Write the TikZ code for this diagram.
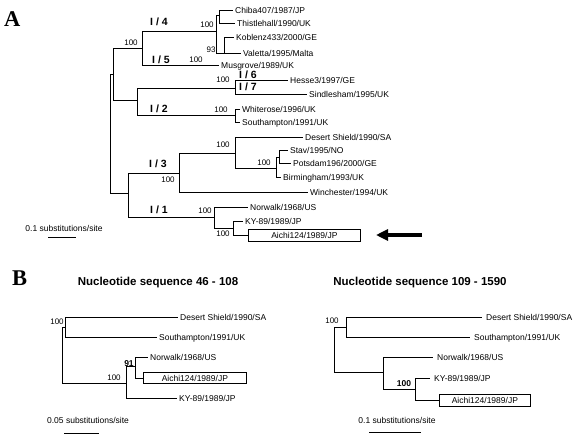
\documentclass[tikz,border=0pt]{standalone}
\usepackage{fontspec}
\setmainfont{Liberation Sans}
\newfontfamily\panelfont{Liberation Serif}
\usetikzlibrary{arrows.meta}
\begin{document}
\begin{tikzpicture}[x=1pt,y=-1pt,
  branch/.style={line width=0.75pt, draw=black},
  leaf/.style={anchor=west, inner xsep=2pt, inner ysep=0pt, font=\fontsize{8.5}{10}\selectfont, text height=6.1pt, text depth=0pt},
  leafR/.style={leaf, inner xsep=4pt},
  boxleaf/.style={draw, line width=0.75pt, anchor=west, inner sep=0pt, font=\fontsize{8.5}{10}\selectfont, text height=6.1pt, text depth=0pt, minimum height=12pt},
  bootlab/.style={inner sep=0pt, font=\fontsize{8}{9.6}\selectfont, text height=5.7pt, text depth=0pt},
  bootbold/.style={inner sep=0pt, font=\bfseries\fontsize{8.5}{10}\selectfont, text height=6.1pt, text depth=0pt},
  cladelab/.style={inner sep=0pt, font=\bfseries\fontsize{10.5}{12}\selectfont, text height=7.5pt, text depth=0pt},
  titlelab/.style={anchor=base, inner sep=0pt, font=\bfseries\fontsize{11.5}{13}\selectfont},
  panellab/.style={anchor=base west, inner sep=0pt, font=\panelfont\bfseries\fontsize{22.5}{26}\selectfont},
  scalelab/.style={inner sep=0pt, font=\fontsize{8.5}{10}\selectfont, text height=6.1pt, text depth=0pt},
  scalebar/.style={line width=1pt}
]
\useasboundingbox (0,0) rectangle (576,439);

% ---------------- Panel A ----------------
\node[panellab] (labA) at (4,27) {A};

\coordinate (rootA) at (110,74);
\coordinate (up) at (113,74);
\coordinate (c45) at (142,48);
\coordinate (c4) at (216,31);
\coordinate (c4a) at (219,15);
\coordinate (c4b) at (224,53);
\coordinate (c67b) at (137,100);
\coordinate (c67) at (235,88);
\coordinate (c2) at (235,115);
\coordinate (low) at (128,193);
\coordinate (c3) at (179,173);
\coordinate (cds) at (235,153);
\coordinate (cst) at (276,168);
\coordinate (csp) at (279,157);
\coordinate (c1) at (214,217);
\coordinate (cka) at (233,228);

\node[leaf] (chiba) at (233,10) {Chiba407/1987/JP};
\node[leaf] (thistle) at (235,23) {Thistlehall/1990/UK};
\node[leaf] (koblenz) at (234,37) {Koblenz433/2000/GE};
\node[leaf] (valetta) at (241,53) {Valetta/1995/Malta};
\node[leaf] (musgrove) at (219,65) {Musgrove/1989/UK};
\node[leaf] (hesse) at (288,80) {Hesse3/1997/GE};
\node[leaf] (sind) at (307,94) {Sindlesham/1995/UK};
\node[leaf] (white) at (240,109) {Whiterose/1996/UK};
\node[leaf] (southA) at (240,122) {Southampton/1991/UK};
\node[leaf] (desertA) at (303,137) {Desert Shield/1990/SA};
\node[leaf] (stav) at (288,150) {Stav/1995/NO};
\node[leaf] (potsdam) at (291,163) {Potsdam196/2000/GE};
\node[leaf] (birm) at (281,177) {Birmingham/1993/UK};
\node[leaf] (winch) at (308,192) {Winchester/1994/UK};
\node[leaf] (norA) at (248,207) {Norwalk/1968/US};
\node[leaf] (kyA) at (243,221) {KY-89/1989/JP};
\node[boxleaf, minimum width=112pt] (aichiA) at (248,235) {Aichi124/1989/JP};

\draw[branch] (rootA) |- (up);
\draw[branch] (rootA) |- (low);
\draw[branch] (up) |- (c45);
\draw[branch] (up) |- (c67b);
\draw[branch] (c45) |- (c4);
\draw[branch] (c45) |- (musgrove.west);
\draw[branch] (c4) |- (c4a);
\draw[branch] (c4) |- (c4b);
\draw[branch] (c4a) |- (chiba.west);
\draw[branch] (c4a) |- (thistle.west);
\draw[branch] (c4b) |- (koblenz.west);
\draw[branch] (c4b) |- (valetta.west);
\draw[branch] (c67b) |- (c67);
\draw[branch] (c67b) |- (c2);
\draw[branch] (c67) |- (hesse.west);
\draw[branch] (c67) |- (sind.west);
\draw[branch] (c2) |- (white.west);
\draw[branch] (c2) |- (southA.west);
\draw[branch] (low) |- (c3);
\draw[branch] (low) |- (c1);
\draw[branch] (c3) |- (cds);
\draw[branch] (c3) |- (winch.west);
\draw[branch] (cds) |- (desertA.west);
\draw[branch] (cds) |- (cst);
\draw[branch] (cst) |- (csp);
\draw[branch] (cst) |- (birm.west);
\draw[branch] (csp) |- (stav.west);
\draw[branch] (csp) |- (potsdam.west);
\draw[branch] (c1) |- (norA.west);
\draw[branch] (c1) |- (cka);
\draw[branch] (cka) |- (kyA.west);
\draw[branch] (cka) |- (aichiA.west);

\node[bootlab] (bA1) at (131,43) {100};
\node[bootlab] (bA2) at (207,25) {100};
\node[bootlab] (bA3) at (211,50) {93};
\node[bootlab] (bA4) at (196,60) {100};
\node[bootlab] (bA5) at (223,80) {100};
\node[bootlab] (bA6) at (221,110) {100};
\node[bootlab] (bA7) at (223,145) {100};
\node[bootlab] (bA8) at (264,163) {100};
\node[bootlab] (bA9) at (168,180) {100};
\node[bootlab] (bA10) at (205,211) {100};
\node[bootlab] (bA11) at (223,234) {100};

\node[cladelab] (g4) at (159,22) {I / 4};
\node[cladelab] (g5) at (161,60) {I / 5};
\node[cladelab] (g6) at (248,75) {I / 6};
\node[cladelab] (g7) at (248,87) {I / 7};
\node[cladelab] (g2) at (159,109) {I / 2};
\node[cladelab] (g3) at (158,164) {I / 3};
\node[cladelab] (g1) at (159,210) {I / 1};

\coordinate (arrtail) at (422,235);
\coordinate (arrtip) at (376,235);
\draw[line width=3.5pt, -{Triangle[length=12pt,width=11pt]}] (arrtail) -- (arrtip);

\node[scalelab] (scA) at (64,228) {0.1 substitutions/site};
\coordinate (sbA1) at (48,237);
\coordinate (sbA2) at (76,237);
\draw[scalebar] (sbA1) -- (sbA2);

% ---------------- Panel B ----------------
\node[panellab] (labB) at (12,285) {B};
\node[titlelab] (titL) at (158,285) {Nucleotide sequence 46 - 108};
\node[titlelab] (titR) at (420,285) {Nucleotide sequence 109 - 1590};

% left tree
\coordinate (rootL) at (62,327);
\coordinate (dsL) at (65,327);
\coordinate (nL) at (126,383);
\coordinate (inL) at (135,366);
\node[leaf] (desL) at (178,317) {Desert Shield/1990/SA};
\node[leaf] (souL) at (157,337) {Southampton/1991/UK};
\node[leaf] (norL) at (148,357) {Norwalk/1968/US};
\node[boxleaf, minimum width=103pt, minimum height=11pt] (aiL) at (143,378) {Aichi124/1989/JP};
\node[leaf] (kyL) at (177,398) {KY-89/1989/JP};

\draw[branch] (rootL) |- (dsL);
\draw[branch] (rootL) |- (nL);
\draw[branch] (dsL) |- (desL.west);
\draw[branch] (dsL) |- (souL.west);
\draw[branch] (nL) |- (inL);
\draw[branch] (nL) |- (kyL.west);
\draw[branch] (inL) |- (norL.west);
\draw[branch] (inL) |- (aiL.west);

\node[bootlab] (bL1) at (57,322) {100};
\node[bootbold] (bL2) at (129,363) {91};
\node[bootlab] (bL3) at (114,378) {100};

\node[scalelab] (scL) at (88,420) {0.05 substitutions/site};
\coordinate (sbL1) at (64,433);
\coordinate (sbL2) at (99,433);
\draw[scalebar] (sbL1) -- (sbL2);

% right tree
\coordinate (rootR) at (334,327);
\coordinate (dsR) at (346,327);
\coordinate (nR) at (383,372);
\coordinate (kaR) at (415,389);
\node[leafR] (desR) at (482,317) {Desert Shield/1990/SA};
\node[leafR] (souR) at (470,337) {Southampton/1991/UK};
\node[leafR] (norR) at (433,357) {Norwalk/1968/US};
\node[leafR] (kyR) at (430,378) {KY-89/1989/JP};
\node[boxleaf, minimum width=91pt] (aiR) at (439,400) {Aichi124/1989/JP};

\draw[branch] (rootR) |- (dsR);
\draw[branch] (rootR) |- (nR);
\draw[branch] (dsR) |- (desR.west);
\draw[branch] (dsR) |- (souR.west);
\draw[branch] (nR) |- (norR.west);
\draw[branch] (nR) |- (kaR);
\draw[branch] (kaR) |- (kyR.west);
\draw[branch] (kaR) |- (aiR.west);

\node[bootlab] (bR1) at (332,321) {100};
\node[bootbold] (bR2) at (404,383) {100};

\node[scalelab] (scR) at (397,420) {0.1 substitutions/site};
\coordinate (sbR1) at (369,432);
\coordinate (sbR2) at (421,432);
\draw[scalebar] (sbR1) -- (sbR2);
\end{tikzpicture}
\end{document}
